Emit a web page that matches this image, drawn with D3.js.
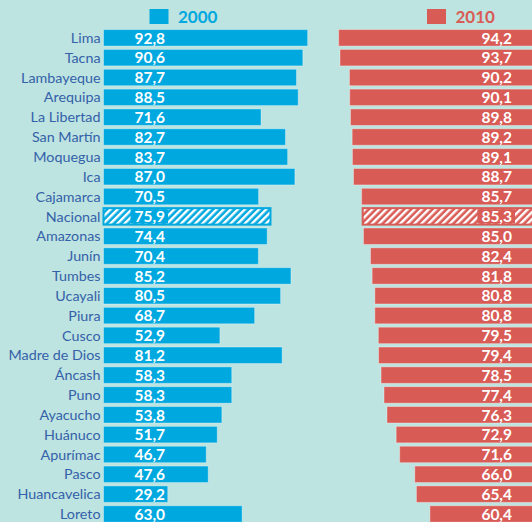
<!DOCTYPE html>
<html>
<head>
<meta charset="utf-8">
<script src="https://cdn.jsdelivr.net/npm/d3@7"></script>
<style>
  html, body { margin: 0; padding: 0; background: #bde4e0; }
  svg { display: block; }
</style>
</head>
<body>
<div id="chart"></div>
<script>
// data
const regions = ["Lima", "Tacna", "Lambayeque", "Arequipa", "La Libertad", "San Martín",
  "Moquegua", "Ica", "Cajamarca", "Nacional", "Amazonas", "Junín", "Tumbes", "Ucayali",
  "Piura", "Cusco", "Madre de Dios", "Áncash", "Puno", "Ayacucho", "Huánuco", "Apurímac",
  "Pasco", "Huancavelica", "Loreto"];
const values2000 = [92.8, 90.6, 87.7, 88.5, 71.6, 82.7, 83.7, 87.0, 70.5, 75.9, 74.4, 70.4,
  85.2, 80.5, 68.7, 52.9, 81.2, 58.3, 58.3, 53.8, 51.7, 46.7, 47.6, 29.2, 63.0];
const values2010 = [94.2, 93.7, 90.2, 90.1, 89.8, 89.2, 89.1, 88.7, 85.7, 85.3, 85.0, 82.4,
  81.8, 80.8, 80.8, 79.5, 79.4, 78.5, 77.4, 76.3, 72.9, 71.6, 66.0, 65.4, 60.4];
const years = ["2000", "2010"];
const highlight = "Nacional";

const width = 532;
const height = 522;
const blue = "#00a8e0";
const red = "#d95b56";
const labelColor = "#3461a9";
const font = "Lato, 'Open Sans', sans-serif";

const fmt = v => d3.format(".1f")(v).replace(".", ",");

const rows = regions.map((r, i) => ({ region: r, a: values2000[i], b: values2010[i] }));

const y = d3.scaleBand()
  .domain(regions)
  .range([27.9, 523.9])
  .paddingInner(0.17)
  .paddingOuter(0.085);

// left panel grows to the right, right panel grows to the left
const xLeft = d3.scaleLinear().domain([0, 100]).range([103.5, 323.5]);
const rightEdge = 593;
const xRight = d3.scaleLinear().domain([0, 100]).range([rightEdge, rightEdge - 270]);

const svg = d3.select("#chart").append("svg")
  .attr("width", width)
  .attr("height", height);

const defs = svg.append("defs");
[["hatch-blue", blue], ["hatch-red", red]].forEach(([id, c]) => {
  const p = defs.append("pattern")
    .attr("id", id)
    .attr("patternUnits", "userSpaceOnUse")
    .attr("width", 5)
    .attr("height", 5)
    .attr("patternTransform", "rotate(45)");
  p.append("rect").attr("width", 5).attr("height", 5).attr("fill", c);
  p.append("rect").attr("width", 2.4).attr("height", 5).attr("fill", "#fff");
});

// region labels
svg.append("g").selectAll("text")
  .data(rows)
  .join("text")
  .attr("x", 100.5)
  .attr("y", d => y(d.region) + y.bandwidth() / 2)
  .attr("dy", "0.36em")
  .attr("text-anchor", "end")
  .attr("fill", labelColor)
  .style("font-family", font)
  .style("font-size", "14.3px")
  .text(d => d.region);

// 2000 bars
const left = svg.append("g").selectAll("g")
  .data(rows)
  .join("g");

left.append("rect")
  .attr("x", xLeft(0))
  .attr("y", d => y(d.region))
  .attr("width", d => xLeft(d.a) - xLeft(0))
  .attr("height", y.bandwidth())
  .attr("fill", d => d.region === highlight ? "url(#hatch-blue)" : blue)
  .attr("stroke", d => d.region === highlight ? blue : "rgba(255,255,255,0.35)")
  .attr("stroke-width", d => d.region === highlight ? 2 : 1);

left.append("text")
  .attr("class", "val")
  .attr("x", 134.5)
  .attr("y", d => y(d.region) + y.bandwidth() / 2)
  .attr("dy", "0.37em")
  .attr("fill", "#fff")
  .style("font-family", font)
  .style("font-weight", "bold")
  .style("font-size", "15.5px")
  .text(d => fmt(d.a));

// 2010 bars
const right = svg.append("g").selectAll("g")
  .data(rows)
  .join("g");

right.append("rect")
  .attr("x", d => xRight(d.b))
  .attr("y", d => y(d.region))
  .attr("width", d => xRight(0) - xRight(d.b))
  .attr("height", y.bandwidth())
  .attr("fill", d => d.region === highlight ? "url(#hatch-red)" : red)
  .attr("stroke", d => d.region === highlight ? red : "rgba(255,255,255,0.35)")
  .attr("stroke-width", d => d.region === highlight ? 2 : 1);

right.append("text")
  .attr("class", "val")
  .attr("x", 512)
  .attr("y", d => y(d.region) + y.bandwidth() / 2)
  .attr("dy", "0.37em")
  .attr("text-anchor", "end")
  .attr("fill", "#fff")
  .style("font-family", font)
  .style("font-weight", "bold")
  .style("font-size", "15.5px")
  .text(d => fmt(d.b));

// solid box behind the value on the hatched row
svg.selectAll("text.val").filter(d => d.region === highlight)
  .each(function (d) {
    const bb = this.getBBox();
    const c = this.getAttribute("text-anchor") === "end" ? red : blue;
    d3.select(this.parentNode).insert("rect", "text")
      .attr("x", bb.x - 4)
      .attr("y", y(d.region) + 1)
      .attr("width", bb.width + 7)
      .attr("height", y.bandwidth() - 2)
      .attr("fill", c);
  });

// legend
const legend = svg.append("g");
const legendItems = [
  { year: years[0], color: blue, x: 149.5 },
  { year: years[1], color: red, x: 427 }
];
legend.selectAll("rect")
  .data(legendItems)
  .join("rect")
  .attr("x", d => d.x)
  .attr("y", 9)
  .attr("width", 19)
  .attr("height", 15)
  .attr("fill", d => d.color);
legend.selectAll("text")
  .data(legendItems)
  .join("text")
  .attr("x", d => d.x + 28.5)
  .attr("y", 16.5)
  .attr("dy", "0.36em")
  .attr("fill", d => d.color)
  .style("font-family", font)
  .style("font-weight", "bold")
  .style("font-size", "17px")
  .text(d => d.year);
</script>
</body>
</html>
